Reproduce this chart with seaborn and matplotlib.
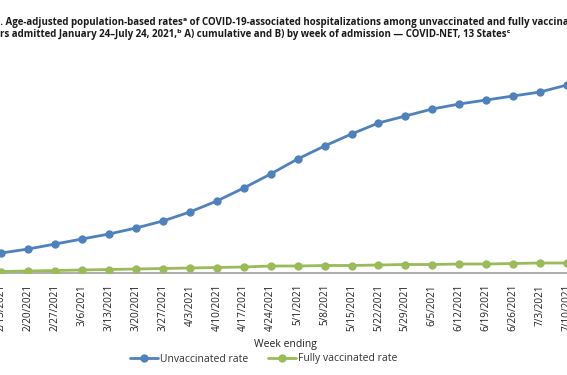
import matplotlib
matplotlib.use("Agg")
import matplotlib.pyplot as plt
import seaborn as sns
import pandas as pd

weeks = ["2/13/2021", "2/20/2021", "2/27/2021", "3/6/2021", "3/13/2021", "3/20/2021",
         "3/27/2021", "4/3/2021", "4/10/2021", "4/17/2021", "4/24/2021", "5/1/2021",
         "5/8/2021", "5/15/2021", "5/22/2021", "5/29/2021", "6/5/2021", "6/12/2021",
         "6/19/2021", "6/26/2021", "7/3/2021", "7/10/2021"]
unvaccinated = [20, 24, 29, 34, 39, 45, 52, 61, 72, 85, 99, 114, 127, 139, 150, 157,
                164, 169, 173, 177, 181, 188]
fully_vaccinated = [1.5, 2, 2.5, 3, 3.5, 4, 4.5, 5, 5.5, 6, 7, 7, 7.5, 7.5, 8, 8.5,
                    8.5, 9, 9, 9.5, 10, 10]
series_names = ["Unvaccinated rate", "Fully vaccinated rate"]

title_line1 = ("Figure 1. Age-adjusted population-based rates\u1d43 of COVID-19-associated "
               "hospitalizations among unvaccinated and fully vaccinated adults aged \u226518 years")
title_line2 = ("years admitted January 24\u2013July 24, 2021,\u1d47 A) cumulative and B) by week "
               "of admission \u2014 COVID-NET, 13 States\u1d9c")

df = pd.DataFrame({
    "idx": list(range(len(weeks))) * 2,
    "rate": unvaccinated + fully_vaccinated,
    "series": [series_names[0]] * len(weeks) + [series_names[1]] * len(weeks),
})

sns.set_style("white")
plt.rcParams["font.family"] = ["Open Sans", "DejaVu Sans"]

W, H = 567, 375
fig = plt.figure(figsize=(W / 100, H / 100), dpi=100)
ax = fig.add_axes([0.0, 0.272, 1.0, 200 / H])

palette = {series_names[0]: "#4f81bd", series_names[1]: "#9bbb59"}
sns.lineplot(data=df, x="idx", y="rate", hue="series", palette=palette,
             marker="o", markersize=6, markeredgewidth=0, linewidth=2.0,
             sort=False, ax=ax, legend=True)

ax.set_xlim(-0.05, -0.05 + W / 27.2)
ax.set_ylim(0, 200)
ax.set_xticks(range(len(weeks)))
ax.set_xticklabels(weeks, rotation=90, fontsize=7.2, color="#222222")
ax.tick_params(axis="x", length=0, pad=8)
ax.set_yticks([])
ax.set_xlabel("")
ax.set_ylabel("")
for s in ["top", "right", "left"]:
    ax.spines[s].set_visible(False)
ax.spines["bottom"].set_color("#a0a0a0")
ax.spines["bottom"].set_linewidth(1.2)
ax.spines["bottom"].set_zorder(0)

handles, labels = ax.get_legend_handles_labels()
ax.get_legend().remove()
fig.legend(handles, labels, loc="center", bbox_to_anchor=(263.5 / W, 1 - 359 / H),
           ncol=2, frameon=False, fontsize=7.5, handlelength=2.7, handletextpad=0.15,
           columnspacing=1.9, labelcolor="#333333")

fig.text(285 / W, 1 - 345 / H, "Week ending", ha="center", va="center",
         fontsize=7.5, color="#222222")

# size the (cropped) title so its visible part spans the figure like the reference
renderer = fig.canvas.get_renderer()
def text_width(s, size):
    t = fig.text(0, 0, s, fontsize=size, fontweight="bold")
    w = t.get_window_extent(renderer).width
    t.remove()
    return w

ref = 10.0
visible1 = title_line1.split("1", 1)[1].split("vaccinated adults")[0] + "vaccin"
tsize = ref * W / text_width(visible1, ref)
off1 = text_width("Figure 1", tsize)
off2 = text_width("yea", tsize)

fig.text(-off1 / W, 1 - 22 / H, title_line1, ha="left", va="center",
         fontsize=tsize, fontweight="bold", color="#1a1a1a")
fig.text(-off2 / W, 1 - 35 / H, title_line2, ha="left", va="center",
         fontsize=tsize, fontweight="bold", color="#1a1a1a")

fig.savefig("out.png", dpi=100)
